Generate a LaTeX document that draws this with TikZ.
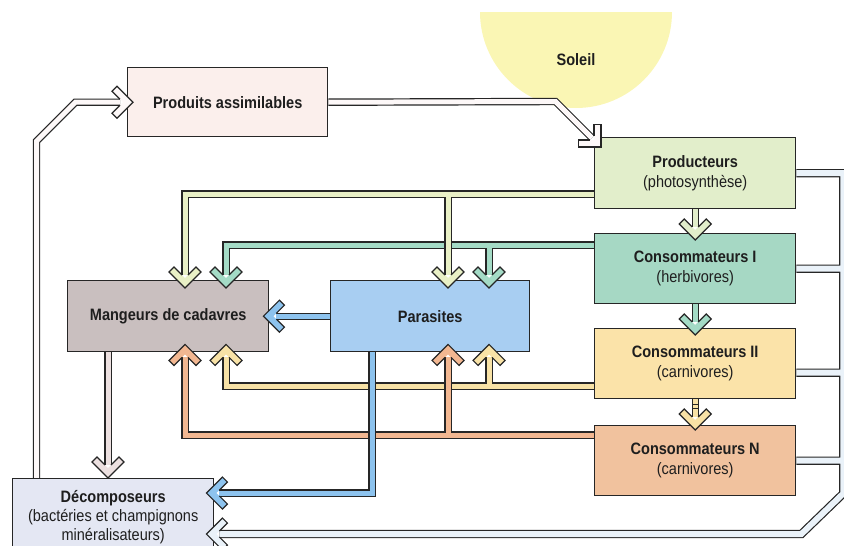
\documentclass[tikz,border=0pt]{standalone}
\usepackage{fontspec}
\newfontfamily\lab{Liberation Sans}[FakeStretch=0.88]
\usetikzlibrary{calc}
\pgfdeclarelayer{bg}
\pgfdeclarelayer{pipes}
\pgfdeclarelayer{front}
\pgfsetlayers{bg,pipes,main,front}

\definecolor{ink}{HTML}{262626}
\definecolor{txtcol}{HTML}{1E1E1E}
\definecolor{prodfill}{HTML}{FBEFEC}
\definecolor{prfill}{HTML}{E2EECB}
\definecolor{cifill}{HTML}{A6D8C4}
\definecolor{ciifill}{HTML}{FBE3A9}
\definecolor{cnfill}{HTML}{F1C29E}
\definecolor{mcfill}{HTML}{C9BFBF}
\definecolor{parfill}{HTML}{A8CEF2}
\definecolor{decfill}{HTML}{E4E7F3}
\definecolor{sunfill}{HTML}{FAF6B4}
\definecolor{pgreen}{HTML}{E9F0C6}
\definecolor{pteal}{HTML}{A4DBC6}
\definecolor{pyellow}{HTML}{F8E2A6}
\definecolor{psalmon}{HTML}{F2B791}
\definecolor{pblue}{HTML}{8DC3EE}
\definecolor{pbus}{HTML}{EAF2F9}
\definecolor{pwhite}{HTML}{FDF8F8}
\definecolor{pgray}{HTML}{ECE0E0}

% a double-walled pipe: dark walls, coloured core
\newcommand\pipe[2]{%
  \draw[ink, line width=7.4pt, line join=miter] #2;
  \draw[#1, line width=5pt, line join=miter] #2;}
\newcommand\widepipe[2]{%
  \draw[ink, line width=8.4pt, line join=miter] #2;
  \draw[#1, line width=6pt, line join=miter] #2;}
% hollow chevron head: tip at #1, turned by #2 degrees (0 = down), filled with #3
\newcommand\chevron[3]{%
  \begin{scope}[shift={#1}, rotate=#2]
    \fill[#3] (0,0) -- (16,-16) -- (11,-21) -- (0,-10) -- (-11,-21) -- (-16,-16) -- cycle;
    \draw[ink, line width=1.2pt, line join=miter]
      (-3,-13) -- (-11,-21) -- (-16,-16) -- (0,0) -- (16,-16) -- (11,-21) -- (3,-13);
  \end{scope}}

\begin{document}
\begin{tikzpicture}[x=1pt, y=-1pt,
  box/.style={draw=ink, line width=1.4pt, anchor=north west, inner sep=0pt,
    minimum width=201pt, minimum height=70pt, align=center, text=txtcol,
    font={\lab\fontsize{16.5}{20}\selectfont}},
  label/.style={text=txtcol, font={\lab\fontsize{16.5}{20}\selectfont}}]
\useasboundingbox (0,0) rectangle (844,546);

% the sun, a half disc hanging from the top
\begin{pgfonlayer}{bg}
  \begin{scope}
    \clip (470,12) rectangle (690,120);
    \fill[sunfill] (576,12) circle[radius=96];
  \end{scope}
\end{pgfonlayer}
\node[label] (sun) at (576,60) {\textbf{Soleil}};

% compartments
\node[box, fill=prodfill, minimum width=200pt, minimum height=69pt] (prod) at (127,67) {\textbf{Produits assimilables}};
\node[box, fill=prfill, minimum height=71pt] (pr) at (594,137) {\textbf{Producteurs}\\(photosynthèse)};
\node[box, fill=cifill] (c1) at (594,233) {\textbf{Consommateurs I}\\(herbivores)};
\node[box, fill=ciifill] (c2) at (594,328) {\textbf{Consommateurs II}\\(carnivores)};
\node[box, fill=cnfill] (cn) at (594,425) {\textbf{Consommateurs N}\\(carnivores)};
\node[box, fill=mcfill, minimum height=71pt] (mc) at (67,280) {\textbf{Mangeurs de cadavres}};
\node[box, fill=parfill, minimum width=199pt, minimum height=71pt] (par) at (330,280) {\textbf{Parasites}};
\node[box, fill=decfill, minimum height=77pt, font={\lab\fontsize{16.5}{19}\selectfont}] (dec) at (12,478) {\textbf{Décomposeurs}\\(bactéries et champignons\\minéralisateurs)};

% start points of the side branches
\coordinate (gstart) at ($(pr.north west)+(0,57)$);
\coordinate (tstart) at ($(c1.north west)+(0,12)$);
\coordinate (ystart) at ($(c2.north west)+(0,58)$);
\coordinate (sstart) at ($(cn.north west)+(0,10)$);
\coordinate (dA) at ($(dec.north west)+(24.5,0)$);
\coordinate (bx) at ($(pr.east)+(47,0)$);

\begin{pgfonlayer}{pipes}
  % mineral salts back to the assimilable products
  \pipe{pwhite}{(dA) -- ($(dA |- prod.west)+(0,39)$) -- ($(dA |- prod.west)+(39,0)$) -- ($(prod.west)+(-7,0)$)}
  % assimilable products to the producers
  \pipe{pwhite}{(prod.east) -- ($(pr.north west)+(-38.5,-35.5)$) -- ($(pr.north west)+(-2.2,0.8)$)}
  % return line from every level down to the decomposers
  \widepipe{pbus}{(pr.east) -- (bx) -- ($(bx |- cn.south)+(0,-3)$) -- ($(bx |- dec.north)+(-42,56)$) -- ($(dec.north east)+(5,56)$)
    (c1.east) -- (c1.east -| bx)
    ($(c2.east)+(0,9)$) -- ($(c2.east -| bx)+(0,9)$)
    (cn.east) -- (cn.east -| bx)}
  % food chain
  \pipe{prfill}{(pr.south) -- ($(c1.north)+(0,-6)$)}
  \pipe{pteal}{(c1.south) -- ($(c2.north)+(0,-6)$)}
  \pipe{pyellow}{(c2.south) -- ($(cn.north)+(0,-8)$)}
  % carcasses to decomposers
  \pipe{pgray}{($(mc.south west)+(41,0)$) -- ($(dec.north west)+(96,-13)$)}
  % herbivores feed carcass eaters and parasites
  \pipe{pteal}{(tstart) -| ($(mc.north west)+(159,-5)$)
    ($(par.north west)+(159,-5)$) |- (tstart)}
  % producers feed carcass eaters and parasites
  \pipe{pgreen}{(gstart) -| ($(mc.north west)+(118,-5)$)
    ($(par.north west)+(118,-5)$) |- (gstart)}
  % carnivores II
  \pipe{pyellow}{(ystart) -| ($(mc.south west)+(159,5)$)
    ($(par.south west)+(159,5)$) |- (ystart)}
  % carnivores N
  \pipe{psalmon}{(sstart) -| ($(mc.south west)+(118,5)$)
    ($(par.south west)+(118,5)$) |- (sstart)}
  % parasites
  \pipe{pblue}{($(par.south west)+(42,0)$) |- ($(dec.north east)+(5,15)$)}
  \pipe{pblue}{(par.west) -- ($(mc.east)+(7,0)$)}
\end{pgfonlayer}

\begin{pgfonlayer}{front}
  \chevron{($(prod.west)+(6,0)$)}{90}{pwhite}
  \chevron{($(pr.north west)+(7,10)$)}{45}{pwhite}
  \chevron{($(c1.north)+(0,7)$)}{0}{prfill}
  \chevron{($(c2.north)+(0,7)$)}{0}{pteal}
  \chevron{($(cn.north)+(0,5)$)}{0}{pyellow}
  \draw[ink, line width=0.9pt] ($(c2.south)+(-3,5)$) -- ++(6,0) ($(c2.south)+(-3,9)$) -- ++(6,0);
  \chevron{($(mc.north west)+(118,8)$)}{0}{pgreen}
  \chevron{($(par.north west)+(118,8)$)}{0}{pgreen}
  \chevron{($(mc.north west)+(159,8)$)}{0}{pteal}
  \chevron{($(par.north west)+(159,8)$)}{0}{pteal}
  \chevron{($(mc.south west)+(118,-8)$)}{180}{psalmon}
  \chevron{($(par.south west)+(118,-8)$)}{180}{psalmon}
  \chevron{($(mc.south west)+(159,-8)$)}{180}{pyellow}
  \chevron{($(par.south west)+(159,-8)$)}{180}{pyellow}
  \chevron{($(mc.east)+(-6,0)$)}{-90}{pblue}
  \chevron{($(dec.north west)+(96,0)$)}{0}{pgray}
  \chevron{($(dec.north east)+(-8,15)$)}{-90}{pblue}
  \chevron{($(dec.north east)+(-8,56)$)}{-90}{pbus}
\end{pgfonlayer}
\end{tikzpicture}
\end{document}
